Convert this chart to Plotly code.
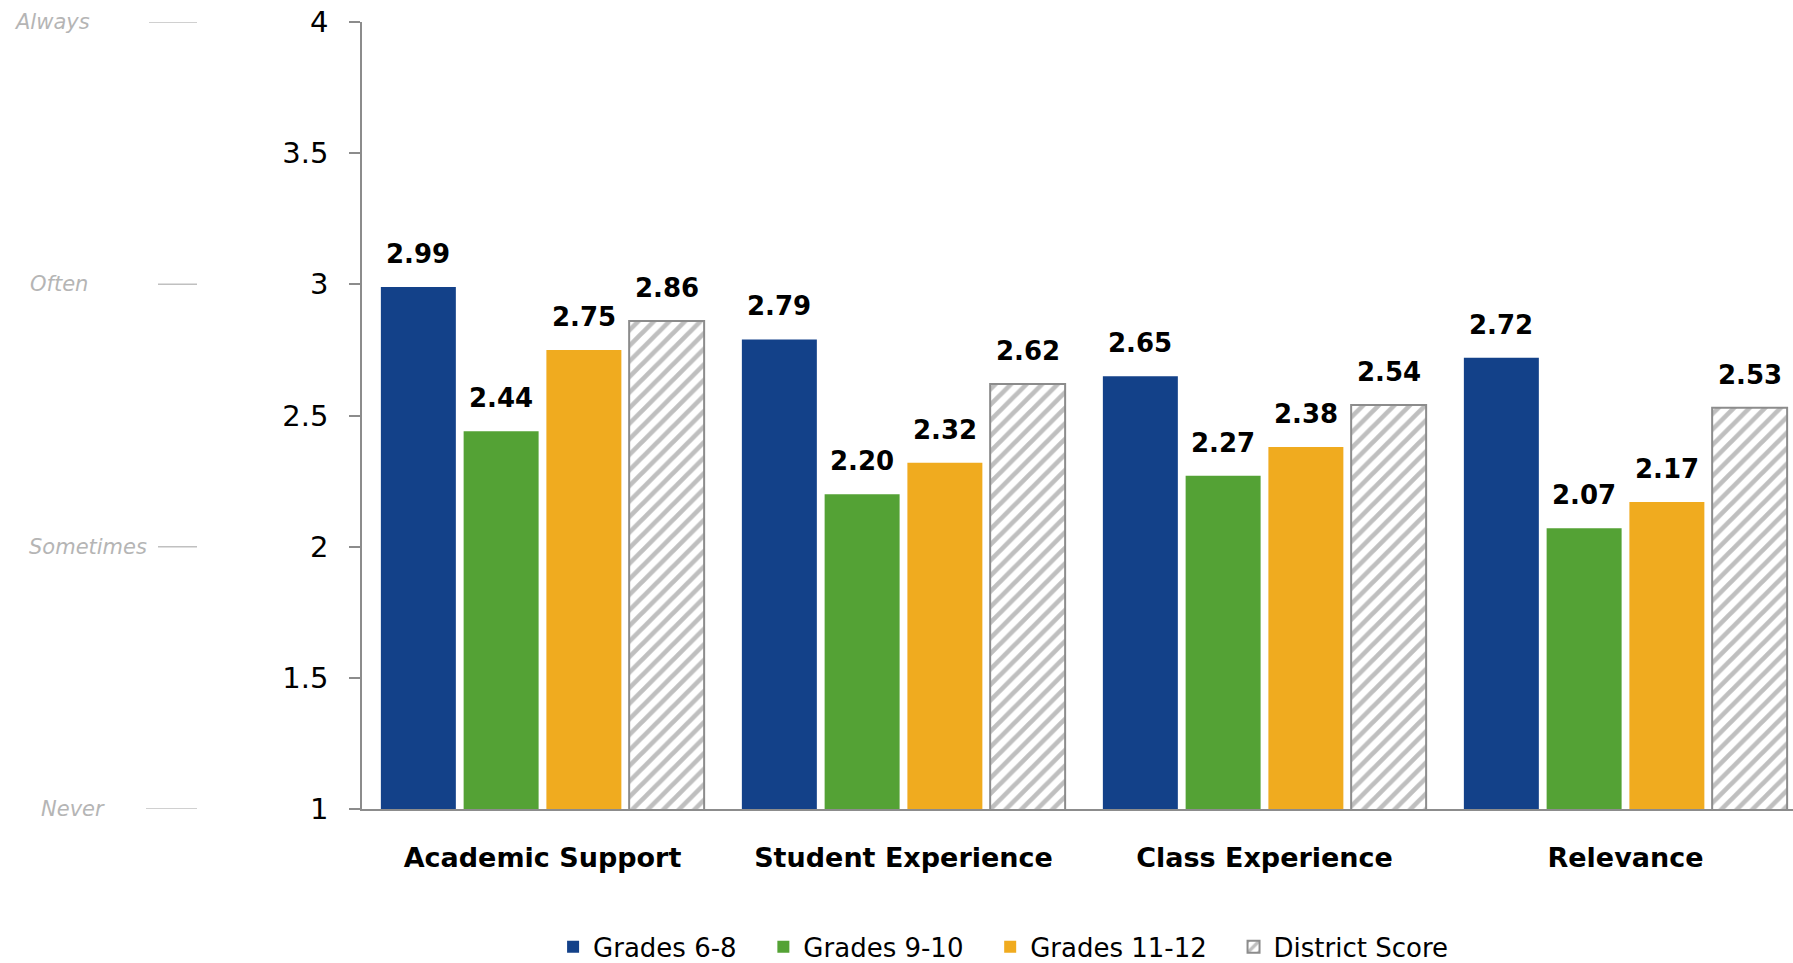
import plotly.graph_objects as go

# ---- data -------------------------------------------------------------
categories = ["Academic Support", "Student Experience", "Class Experience", "Relevance"]
grades_6_8 = [2.99, 2.79, 2.65, 2.72]
grades_9_10 = [2.44, 2.20, 2.27, 2.07]
grades_11_12 = [2.75, 2.32, 2.38, 2.17]
district_score = [2.86, 2.62, 2.54, 2.53]
series_names = ["Grades 6-8", "Grades 9-10", "Grades 11-12", "District Score"]
scale_labels = ["Always", "Often", "Sometimes", "Never"]
scale_values = [4, 3, 2, 1]

# ---- layout constants (pixels) ----------------------------------------
W, H = 1793, 963
M_L, M_R, M_T, M_B = 362, 0, 22, 154
PLOT_W = W - M_L - M_R
FONT = "DejaVu Sans"
AXIS_GREY = "#8c8c8c"

BARGAP = 0.083
GROUPGAP = 0.094
X_RANGE = [-0.5, 3.464]
LEGEND_PAD = "\u00a0\u00a0\u2009"  # extra room between legend entries

colors = ["#134189", "#54a235", "#f0ab1f", "#ffffff"]
series = [grades_6_8, grades_9_10, grades_11_12, district_score]

fig = go.Figure()
for k, (name, vals, col) in enumerate(zip(series_names, series, colors)):
    if name == "District Score":
        marker = dict(
            color="#ffffff",
            line=dict(color=AXIS_GREY, width=2),
            pattern=dict(shape="/", fgcolor="#808080", bgcolor="#ffffff",
                         size=11, solidity=0.42),
        )
    else:
        marker = dict(color=col, line=dict(width=0))
    legend_name = name + (LEGEND_PAD if k < len(series_names) - 1 else "")
    fig.add_trace(go.Bar(x=categories, y=vals, name=legend_name, marker=marker,
                         hoverinfo="skip"))

# value labels above each bar
slot = (1 - BARGAP) / len(series)
annotations = []
for s_i, vals in enumerate(series):
    offset = (s_i - (len(series) - 1) / 2) * slot
    for c_i, v in enumerate(vals):
        annotations.append(dict(
            x=c_i + offset, y=v, xref="x", yref="y",
            text=f"{v:.2f}", showarrow=False,
            yanchor="bottom", yshift=16,
            font=dict(family=FONT, size=26, color="#000000", weight="bold"),
        ))

# frequency scale labels at the left
scale_text_left = [12, 28, 27, 39]
scale_line_x = [(149, 197), (158, 197), (158, 197), (146, 197)]
shapes = []
for lbl, val, tx, (x0, x1) in zip(scale_labels, scale_values, scale_text_left, scale_line_x):
    annotations.append(dict(
        x=(tx - M_L) / PLOT_W, y=val, xref="paper", yref="y",
        text=lbl, showarrow=False, xanchor="left", yanchor="middle",
        font=dict(family=FONT, size=21, color="#b5b5b5", style="italic"),
    ))
    shapes.append(dict(
        type="line", xref="paper", yref="y",
        x0=(x0 - M_L) / PLOT_W, x1=(x1 - M_L) / PLOT_W, y0=val, y1=val,
        line=dict(color="#c0c0c0", width=1.5),
    ))

fig.update_layout(
    width=W, height=H,
    margin=dict(l=M_L, r=M_R, t=M_T, b=M_B, autoexpand=False),
    paper_bgcolor="#ffffff", plot_bgcolor="#ffffff",
    barmode="group", bargap=BARGAP, bargroupgap=GROUPGAP,
    font=dict(family=FONT, color="#000000"),
    annotations=annotations, shapes=shapes,
    showlegend=True,
    legend=dict(
        orientation="h", x=0.448, xanchor="center", y=-0.175, yanchor="middle",
        font=dict(family=FONT, size=26, color="#000000"),
        bgcolor="rgba(0,0,0,0)",
    ),
    xaxis=dict(
        range=X_RANGE, showline=True, linecolor=AXIS_GREY, linewidth=1.5,
        ticks="", showgrid=False, zeroline=False,
        tickfont=dict(family=FONT, size=27, color="#000000", weight="bold"),
        ticklabelstandoff=24,
    ),
    yaxis=dict(
        range=[1, 4], dtick=0.5, tick0=1, showline=True, linecolor=AXIS_GREY,
        linewidth=1.5, ticks="outside", ticklen=11, tickcolor=AXIS_GREY,
        tickwidth=1.5, showgrid=False, zeroline=False,
        tickfont=dict(family=FONT, size=29, color="#000000"),
        ticklabelstandoff=15,
    ),
)

fig.write_html("out.html")
